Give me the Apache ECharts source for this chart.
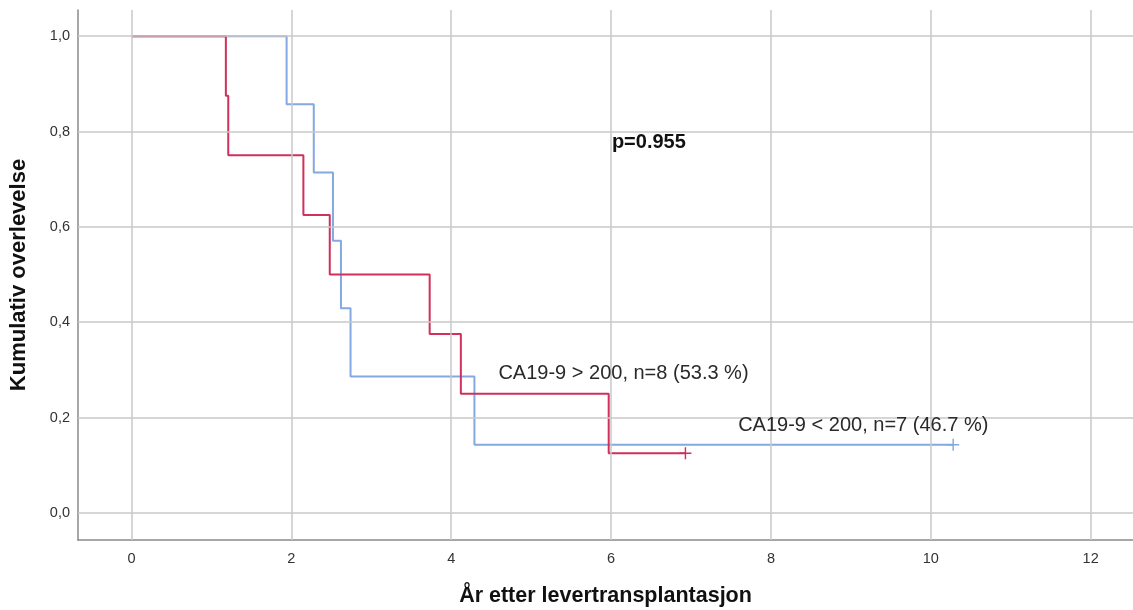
<!DOCTYPE html>
<html>
<head>
<meta charset="utf-8">
<script src="https://cdn.jsdelivr.net/npm/echarts@6/dist/echarts.min.js"></script>
<style>html,body{margin:0;padding:0;background:#fff}#c{width:1133px;height:610px}</style>
</head>
<body>
<div id="c"></div>
<script>
// Kaplan-Meier data
const blueName = 'CA19-9 < 200, n=7 (46.7 %)';
const blueTimes = [0, 1.94, 2.28, 2.52, 2.62, 2.74, 4.29, 10.28];
const blueSurv  = [1.0, 0.857, 0.714, 0.571, 0.429, 0.286, 0.143, 0.143];
const blueCensor = [[10.28, 0.143]];

const redName = 'CA19-9 > 200, n=8 (53.3 %)';
const redTimes = [0, 1.18, 1.21, 2.15, 2.48, 3.73, 4.12, 5.97, 6.93];
const redSurv  = [1.0, 0.875, 0.75, 0.625, 0.5, 0.375, 0.25, 0.125, 0.125];
const redCensor = [[6.93, 0.125]];

const xTicks = [0, 2, 4, 6, 8, 10, 12];
const yTicks = [0, 0.2, 0.4, 0.6, 0.8, 1.0];

const pText = 'p=0.955';
// annotation anchors (data units)
const pPos = [6.01, 0.776];
const redLabelPos = [4.59, 0.293];
const blueLabelPos = [7.59, 0.184];

const zip = (a, b) => a.map((v, i) => [v, b[i]]);
const plus = 'path://M4.4,0H5.6V4.4H10V5.6H5.6V10H4.4V5.6H0V4.4H4.4Z';

const RED = '#d0305b', BLUE = '#84a8e2', GRID = '#c9c9c9';
const font = 'Liberation Sans, Arial, sans-serif';

const chart = echarts.init(document.getElementById('c'), null, {renderer: 'canvas'});
chart.setOption({
  animation: false,
  textStyle: {fontFamily: font},
  grid: {left: 78, right: 0, top: 10, bottom: 70, containLabel: false, outerBoundsMode: 'none'},
  xAxis: {
    type: 'value', min: -0.67, max: 12.53,
    name: 'År etter levertransplantasjon', nameLocation: 'middle', nameGap: 45,
    nameTextStyle: {fontSize: 21.5, fontWeight: 'bold', color: '#111', fontFamily: font},
    axisLine: {show: true, onZero: false, lineStyle: {color: '#8a8a8a', width: 1.5}},
    axisTick: {show: false},
    splitLine: {show: false},
    axisLabel: {customValues: xTicks, color: '#333', fontSize: 14.5, margin: 11, fontFamily: font}
  },
  yAxis: {
    type: 'value', min: -0.057, max: 1.055,
    name: 'Kumulativ overlevelse', nameLocation: 'middle', nameGap: 48,
    nameTextStyle: {fontSize: 22, fontWeight: 'bold', color: '#111', fontFamily: font},
    axisLine: {show: true, onZero: false, lineStyle: {color: '#8a8a8a', width: 1.5}},
    axisTick: {show: false},
    splitLine: {show: false},
    axisLabel: {customValues: yTicks, color: '#333', fontSize: 14.5, margin: 8, fontFamily: font,
      formatter: v => v.toFixed(1).replace('.', ',')}
  },
  series: [
    {
      type: 'line', data: [], silent: true,
      markLine: {
        silent: true, symbol: 'none', label: {show: false},
        lineStyle: {color: GRID, width: 1.5, type: 'solid'},
        data: xTicks.map(v => ({xAxis: v})).concat(yTicks.map(v => ({yAxis: v})))
      }
    },
    {
      name: blueName, type: 'line', step: 'end', showSymbol: false,
      data: zip(blueTimes, blueSurv),
      lineStyle: {color: BLUE, width: 2}, z: 3
    },
    {
      name: redName, type: 'line', step: 'end', showSymbol: false,
      data: zip(redTimes, redSurv),
      lineStyle: {color: RED, width: 2}, z: 4
    },
    {
      type: 'scatter', data: blueCensor, symbol: plus, symbolSize: 12,
      itemStyle: {color: BLUE, opacity: 1}, z: 5
    },
    {
      type: 'scatter', data: redCensor, symbol: plus, symbolSize: 12,
      itemStyle: {color: RED, opacity: 1}, z: 5
    },
    {
      type: 'scatter', symbolSize: 0, silent: true, z: 6,
      itemStyle: {opacity: 1},
      data: [
        {value: pPos, label: {show: true, formatter: pText, position: 'right', distance: 0,
          fontSize: 20, fontWeight: 'bold', color: '#111', fontFamily: font}},
        {value: redLabelPos, label: {show: true, formatter: redName, position: 'right', distance: 0,
          fontSize: 20, color: '#2a2a2a', fontFamily: font}},
        {value: blueLabelPos, label: {show: true, formatter: blueName, position: 'right', distance: 0,
          fontSize: 20, color: '#2a2a2a', fontFamily: font}}
      ]
    }
  ]
});
</script>
</body>
</html>
